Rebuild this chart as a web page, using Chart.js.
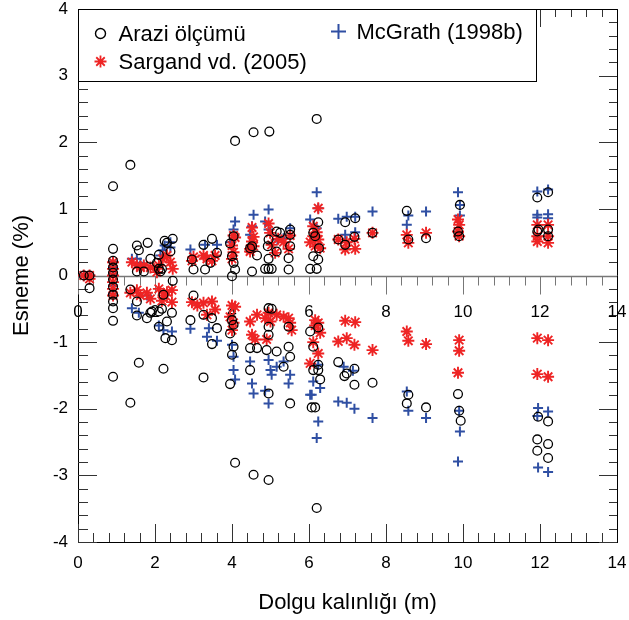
<!DOCTYPE html>
<html>
<head>
<meta charset="utf-8">
<script src="https://cdn.jsdelivr.net/npm/chart.js@4.4.1/dist/chart.umd.min.js"></script>
<style>
	html, body { margin: 0; padding: 0; background: #ffffff; }
	#chart { display: block; }
</style>
</head>
<body>
<canvas id="chart" width="629" height="620"></canvas>
<script>
const FONT = "'Liberation Sans', Arial, sans-serif";

// [dolgu kalınlığı (m), esneme (%)]
const araziPoints = [
	[0.15,0],[0.3,0],[0.3,-0.19],
	[0.91,1.34],[0.91,0.40],[0.91,0.22],[0.91,0.12],[0.91,0.04],[0.91,-0.06],[0.91,-0.17],[0.91,-0.29],[0.91,-0.39],[0.91,-0.49],[0.91,-0.68],[0.91,-1.52],
	[1.36,1.66],[1.53,0.45],[1.58,0.38],[1.81,0.49],[1.53,0.06],[1.71,0.06],[1.88,0.25],
	[1.36,-1.91],[1.58,-1.31],[1.53,-0.39],[1.53,-0.6],[1.79,-0.64],[1.92,-0.54],[1.36,-0.21],
	[2.1,0.31],[2.25,0.52],[2.31,0.49],[2.46,0.55],[2.05,0.19],[2.1,0.1],[2.18,0.1],[2.46,-0.08],[2.4,0.36],[2.14,0.06],
	[2.1,-0.54],[2.18,-0.5],[1.88,-0.56],[2.1,-0.77],[2.27,-0.94],[2.31,-0.69],[2.44,-0.97],[2.44,-0.56],[2.22,-1.40],[2.22,-0.29],
	[2.96,0.24],[3.0,0.09],[3.26,0.46],[3.48,0.55],[3.3,0.09],[3.44,0.19],[3.61,0.34],
	[3.0,-0.3],[2.92,-0.67],[3.26,-0.59],[3.48,-0.64],[3.48,-1.03],[3.26,-1.53],[3.61,-0.79],
	[4.08,2.02],[4.04,0.59],[3.95,0.48],[4.0,0.29],[4.04,0.19],[4.08,0.09],[4.0,-0.01],
	[4.0,-0.67],[4.04,-0.74],[3.95,-0.87],[4.04,-1.07],[4.0,-1.19],[3.95,-1.63],[4.08,-2.81],
	[4.56,2.15],[4.52,0.44],[4.65,0.3],[4.52,0.06],[4.47,0.41],
	[4.47,-1.09],[4.47,-1.42],[4.56,-2.99],[4.65,-1.09],
	[4.97,2.16],[4.95,0.54],[4.93,0.44],[4.86,0.1],[4.95,0.1],[5.03,0.1],[4.95,0.25],[5.16,0.66],[5.25,0.64],[5.51,0.69],[5.51,0.61],[5.47,0.26],[5.16,0.36],[5.47,0.09],[5.51,0.44],
	[4.95,-0.49],[4.95,-0.77],[4.95,-0.89],[4.9,-1.12],[4.95,-1.77],[4.95,-3.07],[5.03,-0.5],[5.16,-1.14],[5.34,-1.37],[5.47,-0.77],[5.47,-1.07],[5.51,-1.22],[5.51,-1.92],
	[6.2,2.35],[6.24,0.8],[6.11,0.64],[6.16,0.59],[6.26,0.41],[6.11,0.29],[6.24,0.24],[6.03,0.1],[6.2,0.1],
	[6.03,-0.84],[6.24,-0.78],[6.11,-1.07],[6.24,-1.34],[6.11,-1.42],[6.24,-1.42],[6.29,-1.56],[6.07,-1.98],[6.16,-1.98],[6.2,-3.49],
	[6.94,0.8],[7.2,0.86],[6.76,0.54],[6.94,0.46],[7.18,0.58],
	[6.76,-1.3],[6.92,-1.51],[6.98,-1.47],[7.18,-1.4],[7.18,-1.64],
	[7.65,0.64],[7.65,-1.61],
	[8.54,0.97],[8.58,0.54],[8.58,-1.79],[8.54,-1.92],
	[9.04,0.56],[9.04,-1.98],
	[9.92,1.06],[9.87,0.66],[9.9,0.59],[9.87,-1.78],[9.9,-2.03],[9.94,-2.18],
	[11.93,1.17],[12.21,1.25],[11.93,0.66],[11.96,0.69],[12.21,0.69],[12.21,0.59],
	[11.95,-2.12],[12.21,-2.19],[11.93,-2.46],[12.21,-2.53],[11.93,-2.63],[12.21,-2.74]
];

const sargandPoints = [
	[0.15,0],[0.3,0],[0.3,-0.05],
	[0.91,0.2],[0.91,0.1],[0.91,0.0],[0.91,-0.1],[0.91,-0.2],[0.91,-0.3],
	[1.4,0.2],[1.53,0.15],[1.62,0.12],[1.71,0.15],[1.88,0.12],
	[1.36,-0.26],[1.53,-0.22],[1.62,-0.3],[1.79,-0.26],[1.88,-0.35],
	[2.1,0.15],[2.2,0.25],[2.31,0.3],[2.4,0.2],[2.46,0.1],[2.05,0.05],
	[2.1,-0.2],[2.22,-0.3],[2.31,-0.25],[2.44,-0.22],[2.44,-0.4],[2.18,-0.38],
	[2.96,0.22],[3.0,0.28],[3.26,0.3],[3.35,0.25],[3.48,0.22],[3.56,0.3],
	[2.96,-0.4],[3.26,-0.41],[3.48,-0.39],[3.35,-0.59],[3.56,-0.51],[3.1,-0.45],
	[4.04,0.6],[4.0,0.45],[4.04,0.35],[4.08,0.57],[4.0,0.25],
	[4.0,-0.45],[3.95,-0.62],[4.04,-0.71],[4.0,-0.82],[4.08,-0.47],
	[4.52,0.72],[4.56,0.58],[4.47,0.4],[4.52,0.51],[4.56,0.44],[4.47,0.36],
	[4.47,-0.69],[4.52,-0.89],[4.65,-0.59],[4.6,-0.96],
	[4.95,0.78],[4.99,0.64],[5.03,0.46],[5.12,0.34],[5.2,0.55],[5.34,0.5],[5.47,0.4],[5.51,0.6],
	[4.95,-0.56],[4.86,-0.64],[5.0,-0.69],[5.16,-0.59],[5.34,-0.62],[5.47,-0.64],[5.51,-0.71],[5.55,-0.82],[4.9,-0.96],
	[6.24,1.01],[6.11,0.74],[6.11,0.59],[6.16,0.44],[6.24,0.54],[6.29,0.41],[6.03,0.5],[6.2,0.65],
	[6.16,-0.67],[6.24,-0.71],[6.29,-0.86],[6.11,-1.0],[6.24,-1.17],[6.03,-1.32],[6.16,-0.75],
	[6.76,0.54],[6.94,0.39],[7.2,0.4],[6.98,0.5],[7.18,0.55],
	[6.94,-0.68],[7.2,-0.7],[6.76,-0.99],[6.98,-0.94],[7.18,-1.04],
	[7.65,0.64],[7.65,-1.12],
	[8.54,0.61],[8.58,0.49],[8.54,-0.84],[8.58,-0.98],
	[9.04,0.64],[9.04,-1.03],
	[9.87,0.84],[9.9,0.76],[9.9,0.59],[9.87,0.66],[9.9,-0.97],[9.9,-1.13],[9.87,-1.46],
	[11.93,0.76],[11.93,0.51],[12.21,0.76],[12.21,0.49],[11.93,0.59],[12.21,0.59],
	[11.93,-0.94],[12.21,-0.97],[11.93,-1.48],[12.21,-1.52]
];

const mcgrathPoints = [
	[0.15,0],[0.3,0],
	[0.91,0.21],[0.91,0.12],[0.91,0.03],[0.91,-0.15],[0.91,-0.27],
	[1.4,0.25],[1.53,0.25],[1.62,0.19],
	[1.4,-0.49],[1.58,-0.56],[1.79,-0.3],
	[2.14,0.3],[2.25,0.45],[2.4,0.42],[2.4,0.5],[2.2,0.38],
	[2.22,-0.82],[2.44,-0.84],[2.1,-0.75],
	[2.92,0.39],[3.3,0.46],[3.61,0.46],
	[2.92,-0.8],[3.35,-0.92],[3.61,-0.98],[3.4,-0.79],
	[4.08,0.81],[4.04,0.69],[3.95,0.5],
	[4.0,-1.04],[4.04,-1.22],[4.04,-1.42],[4.08,-1.56],
	[4.56,0.91],[4.52,0.74],[4.47,0.61],
	[4.47,-1.29],[4.52,-1.62],[4.56,-1.77],
	[4.95,0.99],[4.86,0.81],[4.95,0.69],[5.18,0.54],[5.34,0.56],[5.51,0.71],
	[4.95,-1.27],[5.0,-1.42],[5.03,-1.49],[4.95,-1.92],[4.86,-1.73],[5.16,-1.37],[5.34,-1.29],[5.47,-1.62],[5.51,-1.49],
	[6.2,1.25],[6.03,0.84],[6.24,1.01],[6.2,0.71],
	[6.03,-1.79],[6.07,-1.79],[6.11,-1.59],[6.29,-1.69],[6.24,-2.19],[6.2,-2.44],[6.24,-1.34],
	[6.76,0.85],[6.98,0.88],[7.2,0.88],[6.94,0.61],[7.2,0.65],
	[6.76,-1.89],[6.98,-1.91],[7.18,-2.0],[6.9,-1.37],[7.14,-1.43],
	[7.65,0.96],[7.65,-2.14],
	[8.58,0.9],[8.54,0.76],[8.54,-1.74],[8.58,-2.03],
	[9.04,0.96],[9.04,-2.14],
	[9.87,1.25],[9.92,1.06],[9.92,0.9],
	[9.9,-2.03],[9.92,-2.34],[9.87,-2.79],
	[11.93,1.26],[12.21,1.29],[11.93,0.91],[11.93,0.87],[12.21,0.92],[12.21,0.86],
	[11.95,-1.99],[12.21,-2.04],[11.93,-2.11],[11.95,-2.88],[12.21,-2.95]
];

const seriesNames = ['Arazi ölçümü', 'Sargand vd. (2005)', 'McGrath (1998b)'];
const xTicks = [0, 2, 4, 6, 8, 10, 12, 14];
const yTicks = [-4, -3, -2, -1, 0, 1, 2, 3, 4];

const RED = '#ee2424';
const BLUE = '#2f4fa3';

function toXY(points) {
	return points.map(p => ({ x: p[0], y: p[1] }));
}

// etiket taşmaları için eklenen boşlukları kaldır
function noOverhang(s) {
	s.paddingTop = 0;
	s.paddingBottom = 0;
	s.paddingLeft = 0;
	s.paddingRight = 0;
}

// kenar çentikleri, sıfır çizgisi ve onun etiketleri
const axisDecor = {
	id: 'axisDecor',
	beforeDatasetsDraw(chart) {
		const ctx = chart.ctx;
		const area = chart.chartArea;
		const xs = chart.scales.x;
		const ys = chart.scales.y;
		const y0 = Math.round(ys.getPixelForValue(0)) + 0.5;

		ctx.save();
		ctx.lineWidth = 1;

		// x ekseni çentikleri (0.4 aralık)
		for (let i = 0; i <= 35; i++) {
			const v = i * 0.4;
			const px = Math.round(xs.getPixelForValue(v)) + 0.5;
			const major = i % 5 === 0;
			const len = major ? 18 : 9;
			ctx.strokeStyle = '#333';
			ctx.beginPath();
			ctx.moveTo(px, area.bottom); ctx.lineTo(px, area.bottom - len);
			ctx.moveTo(px, area.top); ctx.lineTo(px, area.top + (major ? 18 : 8));
			ctx.stroke();
			ctx.strokeStyle = '#777';
			ctx.beginPath();
			ctx.moveTo(px, y0); ctx.lineTo(px, y0 + len);
			ctx.stroke();
		}

		// y ekseni çentikleri (0.2 aralık)
		ctx.strokeStyle = '#333';
		for (let i = 0; i <= 40; i++) {
			const v = -4 + i * 0.2;
			const py = Math.round(ys.getPixelForValue(v)) + 0.5;
			const major = i % 5 === 0;
			ctx.beginPath();
			ctx.moveTo(area.left, py); ctx.lineTo(area.left + (major ? 19 : 10), py);
			ctx.moveTo(area.right, py); ctx.lineTo(area.right - (major ? 18 : 8), py);
			ctx.stroke();
		}

		// sıfır çizgisi
		ctx.strokeStyle = '#777';
		ctx.lineWidth = 1.5;
		ctx.beginPath();
		ctx.moveTo(area.left, y0); ctx.lineTo(area.right, y0);
		ctx.stroke();

		// sıfır çizgisi etiketleri
		ctx.fillStyle = '#000';
		ctx.font = '17px ' + FONT;
		ctx.textAlign = 'center';
		ctx.textBaseline = 'middle';
		xTicks.forEach(t => {
			ctx.fillText(String(t), xs.getPixelForValue(t), y0 + 36);
		});

		// üst ve sağ çerçeve
		ctx.strokeStyle = '#000';
		ctx.lineWidth = 1;
		ctx.beginPath();
		ctx.moveTo(area.left, Math.round(area.top) + 0.5);
		ctx.lineTo(Math.round(area.right) + 0.5, Math.round(area.top) + 0.5);
		ctx.lineTo(Math.round(area.right) + 0.5, area.bottom);
		ctx.stroke();
		ctx.restore();
	}
};

// grafik içindeki lejant kutusu
const boxLegend = {
	id: 'boxLegend',
	afterDraw(chart) {
		const ctx = chart.ctx;
		const area = chart.chartArea;
		const left = Math.round(area.left) + 0.5;
		const top = Math.round(area.top) + 0.5;
		const w = 458;
		const h = 72;

		ctx.save();
		ctx.fillStyle = '#fff';
		ctx.fillRect(left, top, w, h);
		ctx.strokeStyle = '#000';
		ctx.lineWidth = 1;
		ctx.strokeRect(left, top, w, h);

		const items = [
			{ text: seriesNames[0], style: 'circle', color: '#000', r: 5, lw: 1.4, x: left + 22, y: top + 24 },
			{ text: seriesNames[1], style: 'star', color: RED, r: 6, lw: 1.8, x: left + 22, y: top + 52 },
			{ text: seriesNames[2], style: 'cross', color: BLUE, r: 7.5, lw: 2, x: left + 260, y: top + 22 }
		];

		ctx.font = '22px ' + FONT;
		ctx.textAlign = 'left';
		ctx.textBaseline = 'middle';
		items.forEach(it => {
			ctx.strokeStyle = it.color;
			ctx.fillStyle = 'rgba(0,0,0,0)';
			ctx.lineWidth = it.lw;
			Chart.helpers.drawPoint(ctx, { pointStyle: it.style, radius: it.r, borderWidth: it.lw, rotation: 0 }, it.x, it.y);
			ctx.fillStyle = '#000';
			ctx.fillText(it.text, it.x + 18, it.y + 1);
		});
		ctx.restore();
	}
};

new Chart(document.getElementById('chart').getContext('2d'), {
	type: 'scatter',
	data: {
		datasets: [{
			label: seriesNames[0],
			data: toXY(araziPoints),
			pointStyle: 'circle',
			pointRadius: 4.4,
			pointBorderWidth: 1.3,
			borderColor: '#000',
			backgroundColor: 'rgba(0,0,0,0)'
		}, {
			label: seriesNames[1],
			data: toXY(sargandPoints),
			pointStyle: 'star',
			pointRadius: 6,
			pointBorderWidth: 1.9,
			borderColor: RED,
			backgroundColor: RED
		}, {
			label: seriesNames[2],
			data: toXY(mcgrathPoints),
			pointStyle: 'cross',
			pointRadius: 5,
			pointBorderWidth: 2,
			borderColor: BLUE,
			backgroundColor: BLUE
		}]
	},
	options: {
		responsive: false,
		animation: false,
		devicePixelRatio: 1,
		layout: {
			padding: { top: 9, right: 12, bottom: 0, left: 0 }
		},
		scales: {
			x: {
				type: 'linear',
				position: 'bottom',
				min: 0,
				max: 14,
				afterBuildTicks: s => { s.ticks = xTicks.map(v => ({ value: v })); },
				afterFit: s => { s.height = 78; noOverhang(s); },
				grid: { display: false, drawTicks: false },
				border: { display: true, color: '#000', width: 1 },
				ticks: {
					color: '#000',
					padding: 11,
					maxRotation: 0,
					font: { family: FONT, size: 17 }
				},
				title: {
					display: true,
					text: 'Dolgu kalınlığı (m)',
					color: '#000',
					font: { family: FONT, size: 22 },
					padding: { top: 0, bottom: 4 }
				}
			},
			y: {
				type: 'linear',
				min: -4,
				max: 4,
				afterBuildTicks: s => { s.ticks = yTicks.map(v => ({ value: v })); },
				afterFit: s => { s.width = 78; noOverhang(s); },
				grid: { display: false, drawTicks: false },
				border: { display: true, color: '#000', width: 1 },
				ticks: {
					color: '#000',
					padding: 10,
					font: { family: FONT, size: 17 }
				},
				title: {
					display: true,
					text: 'Esneme (%)',
					color: '#000',
					font: { family: FONT, size: 22 },
					padding: { top: 9, bottom: 0 }
				}
			}
		},
		plugins: {
			legend: { display: false },
			tooltip: { enabled: false }
		}
	},
	plugins: [axisDecor, boxLegend]
});
</script>
</body>
</html>
